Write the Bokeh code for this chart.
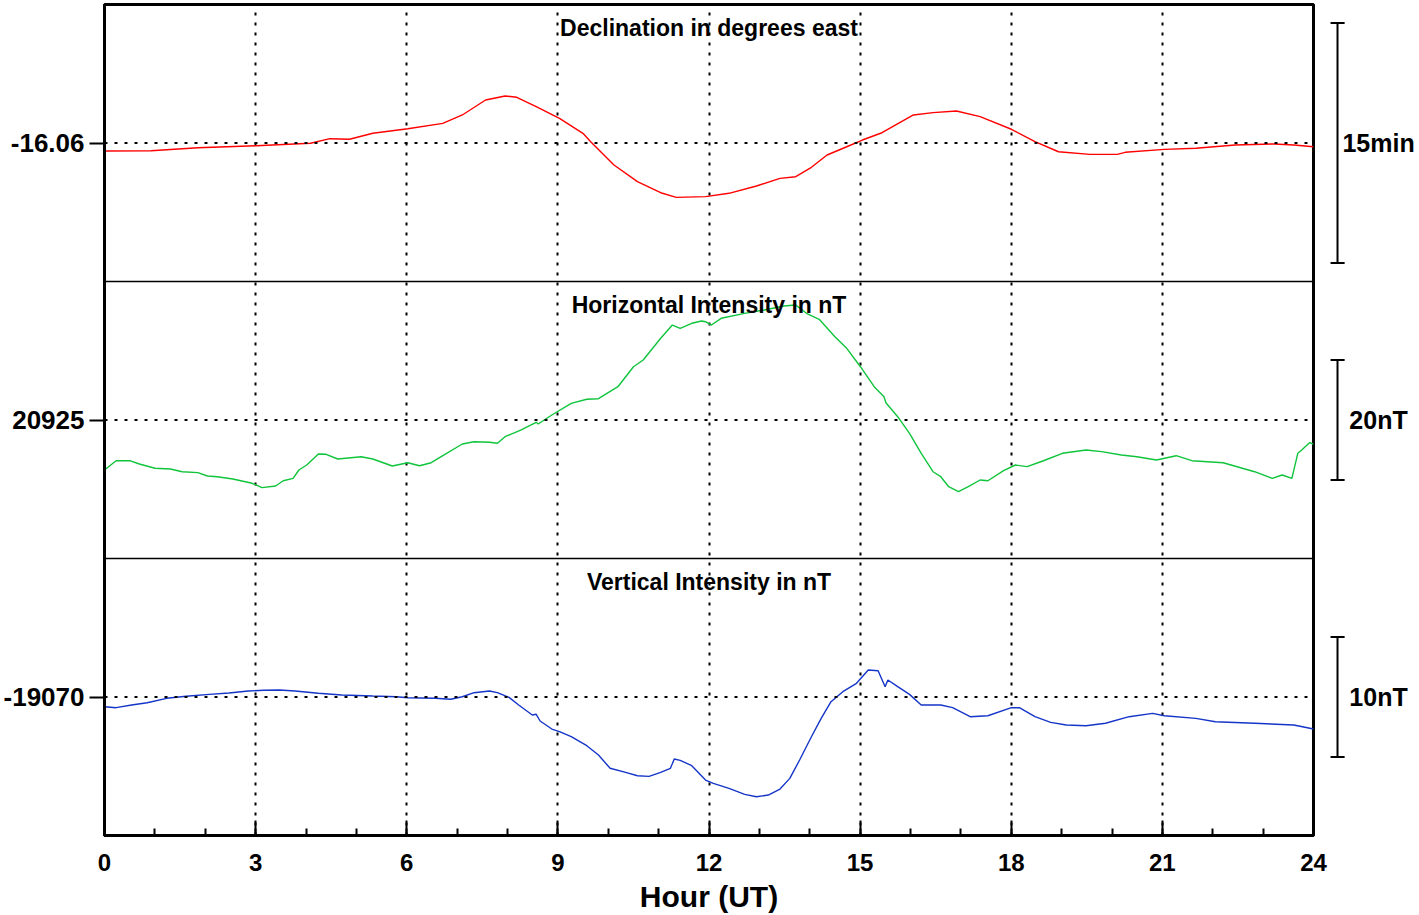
from bokeh.plotting import figure
from bokeh.models import Range1d, FixedTicker, SingleIntervalTicker, Span
from bokeh.layouts import row
from bokeh.embed import file_html
from bokeh.resources import INLINE
from bokeh.core.properties import value

FONT = "Liberation Sans"

# ---------------- data ----------------
dec_hours = [0.0, 0.925, 1.852, 3.009, 4.089, 4.476, 4.864, 5.326, 6.021, 6.716, 7.103, 7.565,
             7.952, 8.184, 8.570, 9.032, 9.497, 9.652, 10.114, 10.579, 11.041, 11.351, 11.931,
             12.397, 12.943, 13.409, 13.721, 14.033, 14.344, 14.734, 15.045, 15.434, 16.058,
             16.447, 16.913, 17.382, 18.003, 18.471, 18.938, 19.561, 20.105, 20.262, 21.040,
             21.664, 22.442, 23.220, 23.609, 24.0]
dec_values = [-16.0683, -16.0680, -16.0649, -16.0628, -16.0603, -16.0555, -16.0561, -16.0499,
              -16.0451, -16.0395, -16.0308, -16.0152, -16.0110, -16.0124, -16.0222, -16.0343,
              -16.0499, -16.0586, -16.0829, -16.1003, -16.1118, -16.1166, -16.1159, -16.1124,
              -16.1048, -16.0968, -16.0951, -16.0853, -16.0725, -16.0639, -16.0569, -16.0493,
              -16.0308, -16.0284, -16.0267, -16.0326, -16.0457, -16.0586, -16.0691, -16.0718,
              -16.0718, -16.0697, -16.0666, -16.0655, -16.0621, -16.0610, -16.0621, -16.0639]

h_hours = [0.0, 0.230, 0.500, 0.693, 1.002, 1.310, 1.542, 1.852, 2.045, 2.237,
           2.547, 2.932, 3.125, 3.397, 3.549, 3.744, 3.859, 4.014, 4.246, 4.399,
           4.631, 5.096, 5.326, 5.713, 6.021, 6.253, 6.485, 6.716, 7.103, 7.335,
           7.643, 7.798, 7.952, 8.262, 8.570, 8.609, 8.880, 9.265, 9.574, 9.806,
           10.192, 10.501, 10.694, 11.041, 11.273, 11.428, 11.658, 11.853, 11.931, 12.048,
           12.242, 12.709, 13.098, 13.487, 13.721, 13.955, 14.188, 14.499, 14.734, 15.006,
           15.279, 15.474, 15.512, 15.746, 15.980, 16.213, 16.447, 16.601, 16.758, 16.953,
           17.147, 17.382, 17.536, 17.848, 18.082, 18.315, 18.626, 19.015, 19.484, 19.794,
           20.185, 20.494, 20.883, 21.274, 21.586, 22.207, 22.831, 23.182, 23.377, 23.571,
           23.688, 23.766, 23.921, 24.0]
h_values = [20916.67, 20918.22, 20918.22, 20917.67, 20916.95, 20916.83, 20916.38, 20916.22, 20915.67, 20915.55,
            20915.17, 20914.45, 20913.72, 20914.0, 20914.88, 20915.28, 20916.67, 20917.5, 20919.33, 20919.28,
            20918.5, 20918.88, 20918.5, 20917.33, 20917.88, 20917.38, 20917.88, 20919.05, 20921.0, 20921.38,
            20921.28, 20921.12, 20922.22, 20923.33, 20924.62, 20924.33, 20925.83, 20927.78, 20928.45, 20928.55,
            20930.55, 20933.88, 20935.0, 20938.62, 20940.83, 20940.28, 20941.12, 20941.5, 20941.38, 20940.83,
            20941.95, 20942.78, 20943.33, 20944.0, 20944.17, 20942.67, 20941.78, 20938.88, 20936.95, 20933.88,
            20930.55, 20928.88, 20927.88, 20925.55, 20922.78, 20919.45, 20916.38, 20915.55, 20913.88, 20913.05,
            20913.88, 20915.0, 20914.88, 20916.55, 20917.5, 20917.22, 20918.17, 20919.45, 20920.0, 20919.72,
            20919.17, 20918.88, 20918.33, 20919.05, 20918.22, 20917.88, 20916.38, 20915.28, 20915.83, 20915.28,
            20919.45, 20920.0, 20921.22, 20921.0]

z_hours = [0.0, 0.230, 0.538, 0.848, 1.233, 1.620, 2.082, 2.470, 2.855, 3.164,
           3.474, 3.782, 4.246, 4.709, 5.326, 5.791, 6.021, 6.563, 6.871, 7.103,
           7.335, 7.643, 7.798, 8.030, 8.222, 8.492, 8.570, 8.647, 8.880, 9.032,
           9.265, 9.574, 9.806, 10.037, 10.346, 10.579, 10.809, 11.041, 11.234, 11.311,
           11.428, 11.658, 11.931, 12.085, 12.397, 12.709, 12.943, 13.177, 13.409, 13.604,
           13.799, 14.033, 14.227, 14.422, 14.656, 14.928, 15.162, 15.357, 15.496, 15.551,
           15.746, 15.980, 16.213, 16.601, 16.836, 17.185, 17.536, 18.003, 18.160, 18.471,
           18.783, 19.093, 19.484, 19.871, 20.340, 20.806, 21.040, 21.664, 22.053, 22.831,
           23.609, 24.0]
z_values = [-19070.81, -19070.89, -19070.67, -19070.48, -19070.11, -19069.94, -19069.78, -19069.67, -19069.5, -19069.44,
            -19069.42, -19069.5, -19069.69, -19069.83, -19069.92, -19069.98, -19070.06, -19070.11, -19070.19, -19069.98,
            -19069.64, -19069.5, -19069.64, -19070.03, -19070.67, -19071.5, -19071.44, -19072.0, -19072.67, -19072.89,
            -19073.31, -19074.06, -19074.83, -19075.94, -19076.28, -19076.56, -19076.61, -19076.28, -19075.94, -19075.17,
            -19075.28, -19075.72, -19076.92, -19077.19, -19077.61, -19078.11, -19078.31, -19078.17, -19077.67, -19076.78,
            -19075.25, -19073.31, -19071.78, -19070.39, -19069.56, -19068.86, -19067.75, -19067.81, -19069.14, -19068.58,
            -19069.14, -19069.78, -19070.67, -19070.67, -19070.89, -19071.64, -19071.56, -19070.89, -19070.89, -19071.64,
            -19072.11, -19072.33, -19072.39, -19072.19, -19071.64, -19071.36, -19071.56, -19071.78, -19072.06, -19072.19,
            -19072.33, -19072.67]

panel_names = ["dec", "h", "z"]
panel_titles = ["Declination in degrees east", "Horizontal Intensity in nT", "Vertical Intensity in nT"]
baselines = [-16.06, 20925, -19070]
baseline_labels = ["-16.06", "20925", "-19070"]
scale_labels = ["15min", "20nT", "10nT"]
scale_lengths = [15 / 60, 20, 10]          # in each panel's data units
panel_spans = [0.2885, 46.17, 23.08]        # data units covered by one panel height
series = [(dec_hours, dec_values, "#ff0000"),
          (h_hours, h_values, "#10c43c"),
          (z_hours, z_values, "#1535c8")]
x_label = "Hour (UT)"

# ---------------- layout ----------------
H = 915
TOP = 4
BOTTOM = 80

p = figure(width=1329, height=H, x_range=Range1d(0, 24), y_range=Range1d(0, 3),
           output_backend="svg", toolbar_location=None,
           min_border_left=104, min_border_right=16, min_border_top=TOP, min_border_bottom=BOTTOM,
           background_fill_color="white", border_fill_color="white",
           outline_line_color="black", outline_line_width=3)

ranges = {}
for k, (name, c, s) in enumerate(zip(panel_names, baselines, panel_spans)):
    ranges[name] = Range1d(c - (2.5 - k) * s, c + (0.5 + k) * s)
p.extra_y_ranges = ranges

# x axis
xa = p.xaxis[0]
xa.ticker = SingleIntervalTicker(interval=3, num_minor_ticks=3)
xa.axis_line_width = 3
xa.major_tick_in = 15
xa.major_tick_out = 0
xa.minor_tick_in = 7
xa.minor_tick_out = 0
xa.major_tick_line_width = 2
xa.minor_tick_line_width = 2
xa.major_label_text_font = FONT
xa.major_label_text_font_style = "bold"
xa.major_label_text_font_size = "24px"
xa.major_label_text_color = "black"
xa.major_label_standoff = 18
xa.axis_label = x_label
xa.axis_label_text_font = FONT
xa.axis_label_text_font_style = "bold"
xa.axis_label_text_font_size = "30px"
xa.axis_label_text_color = "black"
xa.axis_label_standoff = 6

# left axis with one baseline label per panel
ya = p.yaxis[0]
centers = [2.5 - k for k in range(3)]
ya.ticker = FixedTicker(ticks=centers, minor_ticks=[])
ya.major_label_overrides = {c: lab for c, lab in zip(centers, baseline_labels)}
ya.axis_line_width = 3
ya.major_tick_in = 0
ya.major_tick_out = 15
ya.major_tick_line_width = 2
ya.major_label_text_font = FONT
ya.major_label_text_font_style = "bold"
ya.major_label_text_font_size = "26px"
ya.major_label_text_color = "black"
ya.major_label_standoff = 5

# grids
p.ygrid.visible = False
p.xgrid.ticker = FixedTicker(ticks=list(range(3, 24, 3)))
p.xgrid.grid_line_color = "black"
p.xgrid.grid_line_width = 2
p.xgrid.grid_line_dash = "3 7"

# baselines and separators
for c in centers:
    p.add_layout(Span(location=c, dimension="width", line_color="black",
                      line_width=2, line_dash="3 7"))
for sep in [1, 2]:
    p.add_layout(Span(location=sep, dimension="width", line_color="black", line_width=1.5))

for name, (xs, ys, col) in zip(panel_names, series):
    p.line(xs, ys, y_range_name=name, line_color=col, line_width=1.4)

p.text(x=[12, 12, 12], y=[3 - 0.0866, 2 - 0.0866, 1 - 0.0866], text=panel_titles,
       text_font=value(FONT), text_font_style="bold", text_font_size="23px",
       text_align="center", text_baseline="middle", text_color="black")

# ---------------- scale bars on the right ----------------
W2 = 89
p2 = figure(width=W2, height=H, x_range=Range1d(0, 1), y_range=Range1d(0, 3),
            output_backend="svg", toolbar_location=None,
            min_border_left=0, min_border_right=0, min_border_top=TOP, min_border_bottom=BOTTOM,
            x_axis_type=None, y_axis_type=None, outline_line_color=None,
            background_fill_color="white", border_fill_color="white")
p2.extra_y_ranges = ranges
for name, c, L, lab in zip(panel_names, baselines, scale_lengths, scale_labels):
    lo, hi = c - L / 2, c + L / 2
    p2.segment(x0=[0.09, 0.012, 0.012], y0=[lo, lo, hi], x1=[0.09, 0.17, 0.17], y1=[hi, lo, hi],
               y_range_name=name, line_color="black", line_width=2)
    p2.text(x=[0.551], y=[c], text=[lab], y_range_name=name,
            text_font=value(FONT), text_font_style="bold", text_font_size="25px",
            text_align="center", text_baseline="middle", text_color="black")

layout = row(p, p2)
open("out.html", "w").write(file_html(layout, INLINE))
